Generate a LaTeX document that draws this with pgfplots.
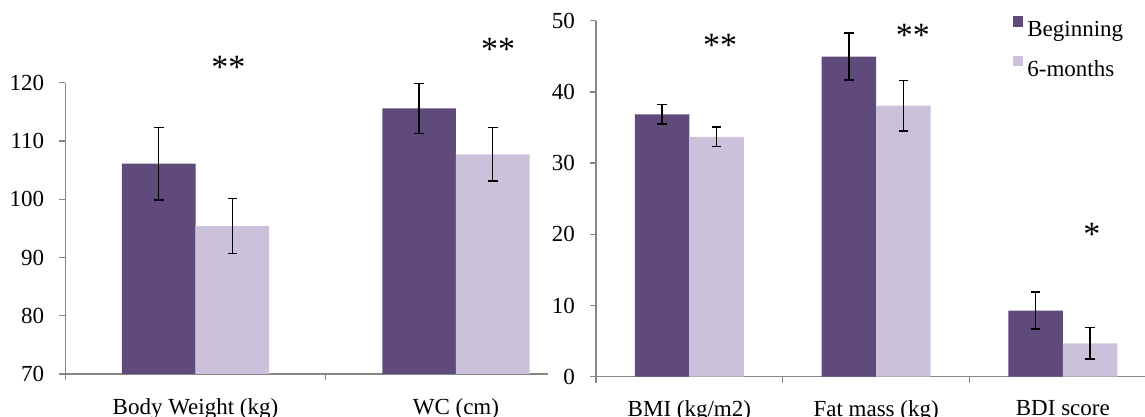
\documentclass[border=0pt]{standalone}
\usepackage{pgfplots}
\pgfplotsset{compat=1.18}
\usepackage{fontspec}
\setmainfont{Liberation Serif}
\definecolor{darkp}{HTML}{604A7B}
\definecolor{lightp}{HTML}{CCC1DA}
\definecolor{axgray}{HTML}{868686}
\tikzset{sigstar/.style={font=\fontsize{17}{17}\selectfont}}
\begin{document}
\begin{tikzpicture}[font=\fontsize{11.5}{13.5}\selectfont]
\useasboundingbox (0,0) rectangle (572.5pt,208.5pt);
\pgfplotsset{
  common/.style={
    scale only axis,
    ybar, bar width=#1,
    axis x line*=bottom, axis y line*=left,
    axis line style={axgray, line width=0.7pt},
    xmin=-0.5,
    xtick style={draw=none},
    ytick style={axgray, line width=0.7pt},
    tick align=outside, major tick length=3pt,
    extra x tick labels={},
    extra x tick style={xtick style={axgray, line width=0.7pt, draw=axgray}, major tick length=3pt},
    xticklabel style={yshift=-5.5pt},
    yticklabel style={xshift=-4pt},
    /pgf/number format/assume math mode=true,
    clip=false,
    error bars/y dir=both, error bars/y explicit,
    error bars/error bar style={black, line width=0.75pt},
    error bars/error mark options={black, line width=0.75pt, mark size=2.4pt, rotate=90},
  },
}
\begin{axis}[common=36.85pt,
  at={(32.65pt,21.5pt)}, anchor=south west,
  width=241.2pt, height=145.65pt,
  xmax=1.3525, ymin=70, ymax=120,
  ytick={70,80,...,120},
  xtick={0,1}, xticklabels={Body Weight (kg), WC (cm)},
  extra x ticks={-0.5,0.5},
]
\addplot[fill=darkp, draw=none, bar shift=-18.4pt] coordinates {(0,106.1) +- (0,6.2) (1,115.6) +- (0,4.3)};
\addplot[fill=lightp, draw=none, bar shift=18.4pt] coordinates {(0,95.4) +- (0,4.7) (1,107.7) +- (0,4.6)};
\node[sigstar] at (axis cs:0.126,122.7) {**};
\node[sigstar] at (axis cs:1.162,125.8) {**};
\end{axis}
\begin{axis}[common=27.25pt,
  at={(298pt,20.15pt)}, anchor=south west,
  width=274.5pt, height=178pt,
  xmax=2.44, ymin=0, ymax=50,
  ytick={0,10,...,50},
  xtick={0,1,2}, xticklabels={BMI (kg/m2), Fat mass (kg), BDI score},
  extra x ticks={-0.5,0.5,1.5},
  legend style={draw=none, fill=none, inner sep=0pt, at={(0.758,1.015)}, anchor=north west,
    row sep=6pt, font=\fontsize{11.5}{13.5}\selectfont},
  legend cell align=left,
  legend image code/.code={\fill[#1, draw=none] (0pt,2pt) rectangle (5.4pt,7.4pt);},
]
\addplot[fill=darkp, draw=none, bar shift=-13.6pt] coordinates {(0,36.85) +- (0,1.35) (1,44.95) +- (0,3.3) (2,9.27) +- (0,2.6)};
\addplot[fill=lightp, draw=none, bar shift=13.6pt] coordinates {(0,33.7) +- (0,1.4) (1,38.06) +- (0,3.55) (2,4.69) +- (0,2.2)};
\legend{Beginning, 6-months}
\node[sigstar] at (axis cs:0.164,46.6) {**};
\node[sigstar] at (axis cs:1.197,47.9) {**};
\node[sigstar] at (axis cs:2.156,20.0) {*};
\end{axis}
\end{tikzpicture}
\end{document}
